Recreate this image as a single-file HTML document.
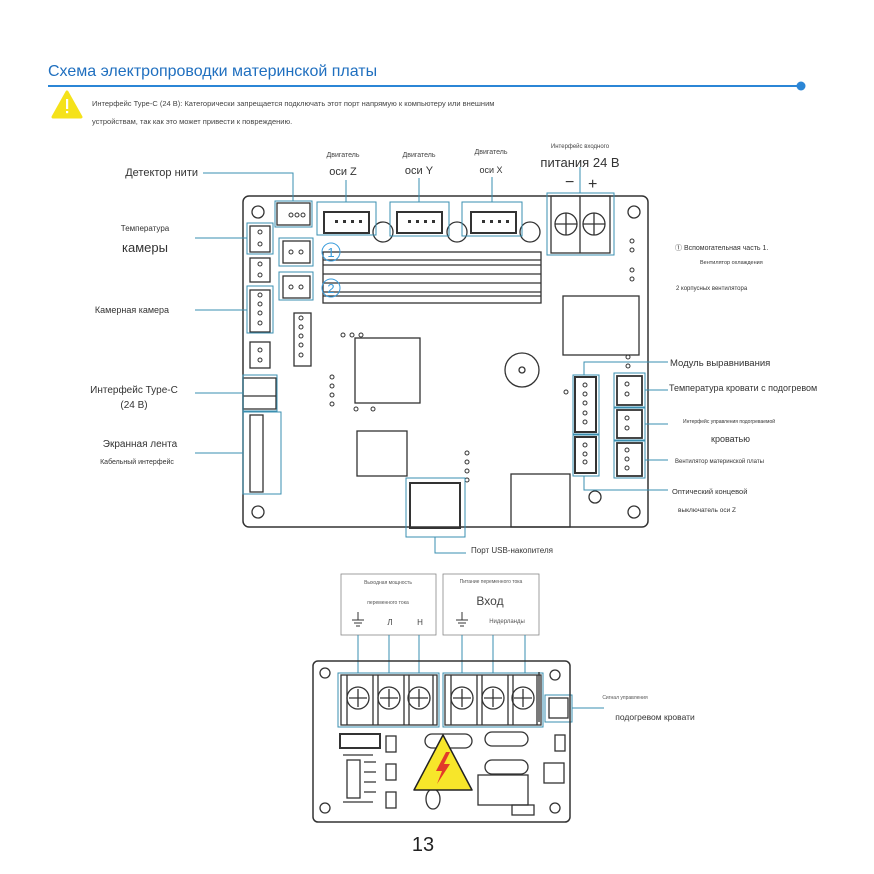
<!DOCTYPE html>
<html><head><meta charset="utf-8"><style>
html,body{margin:0;padding:0;background:#fff;}
svg{display:block;font-family:"Liberation Sans","Noto Sans CJK SC",sans-serif;}
</style></head><body>
<svg width="874" height="874" viewBox="0 0 874 874" xmlns="http://www.w3.org/2000/svg">
<rect width="874" height="874" fill="#fff"/>
<!-- header -->
<text x="48" y="76" font-size="16" fill="#1f6fbf">Схема электропроводки материнской платы</text>
<line x1="48" y1="86" x2="800" y2="86" stroke="#2b86d6" stroke-width="2"/>
<circle cx="801" cy="86" r="4.5" fill="#2b86d6"/>
<path d="M67 92 L81 117 L53 117 Z" fill="#f5e21a" stroke="#f5e21a" stroke-linejoin="round" stroke-width="3"/>
<rect x="66" y="99" width="2.2" height="10" fill="#fff"/><rect x="66" y="111" width="2.2" height="2.2" fill="#fff"/>
<text x="92" y="106" font-size="7.5" fill="#444">Интерфейс Type-C (24 В): Категорически запрещается подключать этот порт напрямую к компьютеру или внешним</text>
<text x="92" y="124" font-size="7.5" fill="#444">устройствам, так как это может привести к повреждению.</text>

<g fill="#444" font-size="7">
<text x="343" y="157" text-anchor="middle">Двигатель</text>
<text x="419" y="157" text-anchor="middle">Двигатель</text>
<text x="491" y="154" text-anchor="middle">Двигатель</text>
<text x="580" y="148" text-anchor="middle" font-size="6">Интерфейс входного</text>
</g>
<g fill="#333" font-size="11">
<text x="343" y="175" text-anchor="middle">оси Z</text>
<text x="419" y="174" text-anchor="middle">оси Y</text>
<text x="491" y="173" text-anchor="middle" font-size="9">оси X</text>
<text x="580" y="167" text-anchor="middle" font-size="13">питания 24 В</text>
<text x="198" y="176" text-anchor="end" font-size="11">Детектор нити</text>
<text x="145" y="231" text-anchor="middle" font-size="8">Температура</text>
<text x="145" y="252" text-anchor="middle" font-size="13">камеры</text>
<text x="132" y="313" text-anchor="middle" font-size="9">Камерная камера</text>
<text x="134" y="393" text-anchor="middle" font-size="10">Интерфейс Type-C</text>
<text x="134" y="408" text-anchor="middle" font-size="10">(24 В)</text>
<text x="140" y="447" text-anchor="middle" font-size="10">Экранная лента</text>
<text x="137" y="464" text-anchor="middle" font-size="7">Кабельный интерфейс</text>
<text x="670" y="366" font-size="9.5">Модуль выравнивания</text>
<text x="669" y="391" font-size="9">Температура кровати с подогревом</text>
<text x="683" y="423" font-size="5">Интерфейс управления подогреваемой</text>
<text x="711" y="442" font-size="9">кроватью</text>
<text x="675" y="463" font-size="6">Вентилятор материнской платы</text>
<text x="672" y="494" font-size="7.5">Оптический концевой</text>
<text x="678" y="512" font-size="6.5">выключатель оси Z</text>
<text x="675" y="250" font-size="7">① Вспомогательная часть 1.</text>
<text x="700" y="264" font-size="5.5">Вентилятор охлаждения</text>
<text x="676" y="290" font-size="6">2 корпусных вентилятора</text>
<text x="471" y="553" font-size="8">Порт USB-накопителя</text>
<text x="565" y="187" font-size="16">−</text>
<text x="588" y="189" font-size="16">+</text>
</g>

<!-- main board -->
<g fill="none" stroke="#333" stroke-width="1.3">
<rect x="243" y="196" width="405" height="331" rx="6" stroke-width="1.5"/>
<circle cx="258" cy="212" r="6"/><circle cx="634" cy="212" r="6"/>
<circle cx="258" cy="512" r="6"/><circle cx="634" cy="512" r="6"/>
<!-- top connectors -->
<rect x="277" y="203" width="33" height="22"/>
<rect x="324" y="212" width="45" height="21" stroke-width="2"/>
<rect x="397" y="212" width="45" height="21" stroke-width="2"/>
<rect x="471" y="212" width="45" height="21" stroke-width="2"/>
<circle cx="383" cy="232" r="10"/><circle cx="457" cy="232" r="10"/><circle cx="530" cy="232" r="10"/>
<rect x="551" y="196" width="59" height="57"/><line x1="580" y1="196" x2="580" y2="253"/>
<circle cx="566" cy="224" r="11"/><circle cx="594" cy="224" r="11"/>
<path d="M555 224h22M566 213v22M583 224h22M594 213v22"/>
<!-- heatsink -->
<rect x="323" y="252" width="218" height="51"/>
<path d="M323 260h218M323 265h218M323 274h218M323 283h218M323 292h218M323 296h218"/>
<!-- fan connectors -->
<rect x="283" y="241" width="27" height="22"/><rect x="283" y="276" width="27" height="22"/>
<!-- left connectors -->
<rect x="250" y="226" width="20" height="26"/>
<rect x="250" y="258" width="20" height="24"/>
<rect x="250" y="290" width="20" height="42"/>
<rect x="250" y="342" width="20" height="26"/>
<rect x="243" y="378" width="33" height="31"/><line x1="243" y1="396" x2="276" y2="396"/>
<rect x="250" y="415" width="13" height="77"/>
<rect x="294" y="313" width="17" height="53"/>
<!-- chips -->
<rect x="355" y="338" width="65" height="65"/>
<circle cx="522" cy="370" r="17"/><circle cx="522" cy="370" r="3"/>
<rect x="563" y="296" width="76" height="59"/>
<rect x="357" y="431" width="50" height="45"/>
<rect x="511" y="474" width="59" height="53"/>
<rect x="410" y="483" width="50" height="45" stroke-width="2"/>
<!-- right connectors -->
<rect x="575" y="377" width="21" height="55" stroke-width="2"/>
<rect x="575" y="437" width="21" height="36" stroke-width="2"/>
<rect x="617" y="376" width="25" height="29" stroke-width="1.8"/>
<rect x="617" y="410" width="25" height="28" stroke-width="1.8"/>
<rect x="617" y="443" width="25" height="33" stroke-width="1.8"/>
<circle cx="595" cy="497" r="6"/>
</g>
<g fill="none" stroke="#333" stroke-width="1">
<circle cx="291" cy="215" r="2"/><circle cx="297" cy="215" r="2"/><circle cx="303" cy="215" r="2"/>
<circle cx="291" cy="252" r="2"/><circle cx="301" cy="252" r="2"/><circle cx="291" cy="287" r="2"/><circle cx="301" cy="287" r="2"/>
<circle cx="260" cy="232" r="2"/><circle cx="260" cy="244" r="2"/><circle cx="260" cy="264" r="2"/><circle cx="260" cy="275" r="2"/>
<circle cx="260" cy="295" r="2"/><circle cx="260" cy="304" r="2"/><circle cx="260" cy="313" r="2"/><circle cx="260" cy="323" r="2"/>
<circle cx="260" cy="350" r="2"/><circle cx="260" cy="360" r="2"/>
<circle cx="301" cy="318" r="2"/><circle cx="301" cy="327" r="2"/><circle cx="301" cy="336" r="2"/><circle cx="301" cy="345" r="2"/><circle cx="301" cy="355" r="2"/>
<circle cx="343" cy="335" r="2"/><circle cx="352" cy="335" r="2"/><circle cx="361" cy="335" r="2"/>
<circle cx="332" cy="377" r="2"/><circle cx="332" cy="386" r="2"/><circle cx="332" cy="395" r="2"/><circle cx="332" cy="404" r="2"/>
<circle cx="356" cy="409" r="2"/><circle cx="373" cy="409" r="2"/>
<circle cx="467" cy="453" r="2"/><circle cx="467" cy="462" r="2"/><circle cx="467" cy="471" r="2"/><circle cx="467" cy="480" r="2"/>
<circle cx="632" cy="241" r="2"/><circle cx="632" cy="250" r="2"/><circle cx="632" cy="270" r="2"/><circle cx="632" cy="279" r="2"/>
<circle cx="628" cy="357" r="2"/><circle cx="628" cy="366" r="2"/><circle cx="566" cy="392" r="2"/>
<circle cx="585" cy="385" r="2"/><circle cx="585" cy="394" r="2"/><circle cx="585" cy="403" r="2"/><circle cx="585" cy="413" r="2"/><circle cx="585" cy="422" r="2"/>
<circle cx="585" cy="445" r="2"/><circle cx="585" cy="454" r="2"/><circle cx="585" cy="462" r="2"/>
<circle cx="627" cy="384" r="2"/><circle cx="627" cy="394" r="2"/><circle cx="627" cy="418" r="2"/><circle cx="627" cy="428" r="2"/>
<circle cx="627" cy="450" r="2"/><circle cx="627" cy="459" r="2"/><circle cx="627" cy="468" r="2"/>
</g>
<g fill="#333"><rect x="335" y="220" width="3" height="3"/><rect x="343" y="220" width="3" height="3"/><rect x="351" y="220" width="3" height="3"/><rect x="359" y="220" width="3" height="3"/>
<rect x="408" y="220" width="3" height="3"/><rect x="416" y="220" width="3" height="3"/><rect x="424" y="220" width="3" height="3"/><rect x="432" y="220" width="3" height="3"/>
<rect x="482" y="220" width="3" height="3"/><rect x="490" y="220" width="3" height="3"/><rect x="498" y="220" width="3" height="3"/><rect x="506" y="220" width="3" height="3"/></g>
<g fill="none" stroke="#3b9ddc" stroke-width="1"><circle cx="331" cy="252" r="9"/><circle cx="331" cy="288" r="9"/></g>
<text x="331" y="257" font-size="13" fill="#3b9ddc" text-anchor="middle">1</text>
<text x="331" y="293" font-size="13" fill="#3b9ddc" text-anchor="middle">2</text>

<!-- blue leader boxes & lines -->
<g fill="none" stroke="#3a8fb0" stroke-width="1">
<rect x="275" y="201" width="37" height="26"/>
<rect x="317" y="202" width="59" height="33"/><rect x="390" y="202" width="59" height="34"/><rect x="462" y="202" width="60" height="34"/>
<rect x="547" y="193" width="67" height="62"/>
<rect x="247" y="223" width="26" height="31"/><rect x="247" y="286" width="26" height="47"/>
<rect x="279" y="238" width="34" height="28"/><rect x="279" y="272" width="34" height="28"/>
<rect x="243" y="375" width="34" height="36"/><rect x="243" y="412" width="38" height="82"/>
<rect x="406" y="478" width="59" height="59"/>
<rect x="573" y="375" width="26" height="59"/><rect x="573" y="435" width="26" height="41"/>
<rect x="614" y="373" width="31" height="34"/><rect x="614" y="408" width="31" height="32"/><rect x="614" y="441" width="31" height="37"/>
<path d="M203 173H293V201M346 180V202M419 178V202M492 177V202M580 167V193"/>
<path d="M195 238H247M195 310H247M195 393H243M195 453H243"/>
<path d="M435 537V553H466"/>
<path d="M584 375V362H668M645 390H668M645 424H668M645 460H668M584 476V490H668"/>
</g>

<!-- lower board -->
<g font-size="5" fill="#555" text-anchor="middle">
<text x="388" y="584">Выходная мощность</text><text x="388" y="604">переменного тока</text>
<text x="491" y="583">Питание переменного тока</text>
<text x="507" y="623" font-size="6">Нидерланды</text>
<text x="625" y="699">Сигнал управления</text>
</g>
<text x="490" y="605" font-size="12" fill="#444" text-anchor="middle">Вход</text>
<text x="390" y="625" font-size="8" fill="#444" text-anchor="middle">Л</text>
<text x="420" y="625" font-size="8" fill="#444" text-anchor="middle">Н</text>
<text x="655" y="720" font-size="8.5" fill="#333" text-anchor="middle">подогревом кровати</text>
<text x="423" y="851" font-size="20" fill="#222" text-anchor="middle">13</text>
<g fill="none" stroke="#888" stroke-width="0.8">
<rect x="341" y="574" width="95" height="61"/><rect x="443" y="574" width="96" height="61"/>
</g>
<g fill="none" stroke="#333" stroke-width="1">
<path d="M358 612v8M352 620h12M354 623h8M356 626h4M462 612v8M456 620h12M458 623h8M460 626h4"/>
</g>
<g fill="none" stroke="#3a8fb0" stroke-width="1">
<path d="M358 635V673M389 635V673M419 635V673M462 635V673M493 635V673M525 635V673M572 708H604"/>
<rect x="338" y="673" width="101" height="54"/><rect x="443" y="673" width="100" height="54"/>
<rect x="545" y="695" width="27" height="27"/>
</g>
<g fill="none" stroke="#333" stroke-width="1.3">
<rect x="313" y="661" width="257" height="161" rx="5" stroke-width="1.5"/>
<circle cx="325" cy="673" r="5"/><circle cx="555" cy="675" r="5"/><circle cx="325" cy="808" r="5"/><circle cx="555" cy="808" r="5"/>
<rect x="341" y="675" width="96" height="50"/><rect x="445" y="675" width="96" height="50"/>
<path d="M347 675v50M373 675v50M378 675v50M404 675v50M409 675v50M433 675v50M451 675v50M477 675v50M482 675v50M508 675v50M513 675v50M537 675v50"/>
<circle cx="358" cy="698" r="11"/><circle cx="389" cy="698" r="11"/><circle cx="419" cy="698" r="11"/>
<circle cx="462" cy="698" r="11"/><circle cx="493" cy="698" r="11"/><circle cx="523" cy="698" r="11"/>
<path d="M349 698h18M358 689v18M380 698h18M389 689v18M410 698h18M419 689v18M453 698h18M462 689v18M484 698h18M493 689v18M514 698h18M523 689v18"/>
<rect x="549" y="698" width="19" height="20"/>
<rect x="340" y="734" width="40" height="14" stroke-width="2"/>
<rect x="386" y="736" width="10" height="16"/><rect x="386" y="764" width="10" height="16"/><rect x="386" y="792" width="10" height="16"/>
<rect x="347" y="760" width="13" height="38"/><path d="M343 755h30M343 802h30M364 762h12M364 772h12M364 782h12M364 792h12"/>
<rect x="425" y="734" width="47" height="14" rx="7"/><rect x="485" y="732" width="43" height="14" rx="7"/><rect x="485" y="760" width="43" height="14" rx="7"/>
<rect x="478" y="775" width="50" height="30"/>
<rect x="512" y="805" width="22" height="10"/>
<rect x="555" y="735" width="10" height="16"/>
<rect x="544" y="763" width="20" height="20"/>
<path d="M539 672v50"/>
<ellipse cx="433" cy="799" rx="7" ry="10"/>
</g>
<path d="M443 735 L472 790 L414 790 Z" fill="#f7e62a" stroke="#222" stroke-width="1.5" stroke-linejoin="round"/>
<path d="M446 752 L436 771 L442 771 L437 784 L450 764 L444 764 L450 752 Z" fill="#e23a2a"/>
</svg>
</body></html>
